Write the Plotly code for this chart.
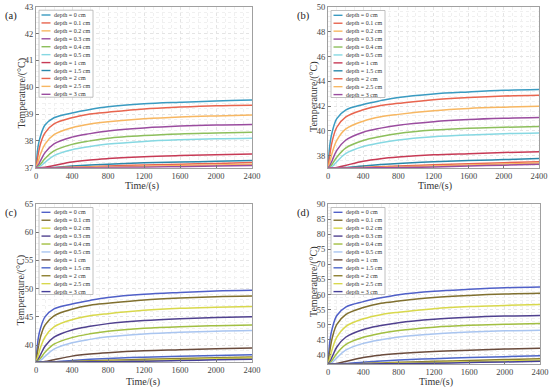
import plotly.graph_objects as go

# ---------------- data ----------------
time_s = [0, 25, 50, 100, 200, 400, 600, 800, 1200, 1600, 2000, 2400]
depth_labels = ["depth = 0 cm", "depth = 0.1 cm", "depth = 0.2 cm", "depth = 0.3 cm",
                "depth = 0.4 cm", "depth = 0.5 cm", "depth = 1 cm", "depth = 1.5 cm",
                "depth = 2 cm", "depth = 2.5 cm", "depth = 3 cm"]
panel_labels = ["(a)", "(b)", "(c)", "(d)"]
x_title = "Time/(s)"
y_title = "Temperature/(\u00b0C)"

temps_a = [
    [37, 37.83, 38.18, 38.59, 38.86, 39.04, 39.17, 39.27, 39.38, 39.44, 39.49, 39.52],
    [37, 37.51, 37.89, 38.30, 38.63, 38.86, 39.00, 39.07, 39.19, 39.26, 39.31, 39.33],
    [37, 37.24, 37.51, 37.88, 38.23, 38.49, 38.63, 38.71, 38.82, 38.89, 38.93, 38.96],
    [37, 37.10, 37.26, 37.56, 37.89, 38.14, 38.27, 38.37, 38.48, 38.55, 38.59, 38.61],
    [37, 37.04, 37.13, 37.34, 37.63, 37.87, 38.00, 38.10, 38.20, 38.26, 38.29, 38.32],
    [37, 37.01, 37.06, 37.20, 37.45, 37.67, 37.79, 37.88, 37.98, 38.04, 38.08, 38.10],
    [37, 37.00, 37.00, 37.02, 37.08, 37.21, 37.29, 37.34, 37.41, 37.45, 37.48, 37.51],
    [37, 37.00, 37.00, 37.00, 37.01, 37.06, 37.10, 37.13, 37.18, 37.21, 37.24, 37.27],
    [37, 37.00, 37.00, 37.00, 37.00, 37.02, 37.04, 37.06, 37.10, 37.13, 37.16, 37.19],
    [37, 37.00, 37.00, 37.00, 37.00, 37.01, 37.02, 37.03, 37.05, 37.08, 37.10, 37.13],
    [37, 37.00, 37.00, 37.00, 37.00, 37.00, 37.00, 37.01, 37.02, 37.04, 37.06, 37.08],
]
temps_b = [
    [37, 39.09, 39.98, 40.99, 41.68, 42.13, 42.44, 42.70, 42.98, 43.14, 43.27, 43.33],
    [37, 38.29, 39.23, 40.29, 41.11, 41.70, 42.05, 42.22, 42.52, 42.69, 42.81, 42.87],
    [37, 37.60, 38.29, 39.24, 40.14, 40.78, 41.13, 41.33, 41.63, 41.81, 41.91, 41.98],
    [37, 37.24, 37.65, 38.42, 39.24, 39.89, 40.22, 40.46, 40.74, 40.91, 41.01, 41.07],
    [37, 37.10, 37.34, 37.87, 38.61, 39.22, 39.55, 39.79, 40.06, 40.21, 40.29, 40.36],
    [37, 37.03, 37.14, 37.51, 38.16, 38.73, 39.04, 39.26, 39.52, 39.67, 39.77, 39.83],
    [37, 37.00, 37.01, 37.04, 37.21, 37.55, 37.75, 37.88, 38.06, 38.16, 38.25, 38.32],
    [37, 37.00, 37.00, 37.00, 37.04, 37.17, 37.28, 37.37, 37.50, 37.60, 37.68, 37.76],
    [37, 37.00, 37.00, 37.00, 37.01, 37.05, 37.11, 37.17, 37.26, 37.35, 37.43, 37.50],
    [37, 37.00, 37.00, 37.00, 37.00, 37.02, 37.05, 37.08, 37.16, 37.24, 37.32, 37.40],
    [37, 37.00, 37.00, 37.00, 37.00, 37.01, 37.02, 37.04, 37.09, 37.16, 37.23, 37.30],
]
temps_c = [
    [37, 41.19, 42.97, 45.00, 46.40, 47.29, 47.92, 48.43, 49.00, 49.32, 49.57, 49.70],
    [37, 39.57, 41.45, 43.55, 45.19, 46.36, 47.06, 47.41, 48.00, 48.35, 48.58, 48.70],
    [37, 38.18, 39.56, 41.43, 43.21, 44.49, 45.18, 45.57, 46.16, 46.51, 46.70, 46.85],
    [37, 37.48, 38.28, 39.80, 41.40, 42.68, 43.32, 43.80, 44.36, 44.68, 44.88, 45.00],
    [37, 37.20, 37.66, 38.71, 40.15, 41.33, 41.99, 42.44, 42.97, 43.26, 43.43, 43.56],
    [37, 37.06, 37.28, 38.00, 39.28, 40.40, 41.01, 41.46, 41.96, 42.26, 42.46, 42.57],
    [37, 37.00, 37.01, 37.07, 37.40, 38.04, 38.41, 38.65, 38.98, 39.17, 39.35, 39.47],
    [37, 37.00, 37.00, 37.01, 37.06, 37.28, 37.48, 37.63, 37.85, 38.02, 38.16, 38.29],
    [37, 37.00, 37.00, 37.00, 37.01, 37.09, 37.20, 37.30, 37.47, 37.62, 37.77, 37.90],
    [37, 37.00, 37.00, 37.00, 37.00, 37.03, 37.08, 37.15, 37.28, 37.42, 37.56, 37.70],
    [37, 37.00, 37.00, 37.00, 37.00, 37.01, 37.03, 37.06, 37.15, 37.26, 37.38, 37.50],
]
temps_d = [
    [37, 45.42, 48.99, 53.07, 55.87, 57.66, 58.93, 59.95, 61.10, 61.74, 62.25, 62.50],
    [37, 42.15, 45.89, 50.10, 53.38, 55.72, 57.12, 57.83, 59.00, 59.70, 60.17, 60.40],
    [37, 39.36, 42.12, 45.87, 49.41, 51.97, 53.35, 54.14, 55.32, 56.01, 56.40, 56.70],
    [37, 37.97, 39.58, 42.64, 45.86, 48.43, 49.72, 50.69, 51.81, 52.46, 52.86, 53.10],
    [37, 37.40, 38.34, 40.48, 43.43, 45.84, 47.18, 48.12, 49.19, 49.80, 50.13, 50.40],
    [37, 37.11, 37.56, 39.02, 41.59, 43.83, 45.06, 45.96, 46.97, 47.58, 47.98, 48.20],
    [37, 37.00, 37.03, 37.16, 37.83, 39.18, 39.96, 40.48, 41.16, 41.58, 41.94, 42.20],
    [37, 37.00, 37.00, 37.01, 37.14, 37.59, 38.00, 38.32, 38.78, 39.13, 39.43, 39.70],
    [37, 37.00, 37.00, 37.00, 37.02, 37.17, 37.37, 37.56, 37.88, 38.17, 38.45, 38.70],
    [37, 37.00, 37.00, 37.00, 37.00, 37.05, 37.15, 37.26, 37.50, 37.74, 37.99, 38.24],
    [37, 37.00, 37.00, 37.00, 37.00, 37.02, 37.05, 37.11, 37.27, 37.47, 37.68, 37.90],
]

x_ticks = [0, 400, 800, 1200, 1600, 2000, 2400]
y_ticks_a = [37, 38, 39, 40, 41, 42, 43]
y_ticks_b = [38, 40, 42, 44, 46, 48, 50]
y_ticks_c = [40, 45, 50, 55, 60, 65]
y_ticks_d = [40, 45, 50, 55, 60, 65, 70, 75, 80, 85, 90]

colors_ab = ["#3A9BC1", "#E8654F", "#F7B762", "#9A4C9F", "#8DBF5C", "#86D8E2",
             "#C73A55", "#2A88AA", "#E8654F", "#F7B762", "#9A4C9F"]
colors_cd = ["#5060C8", "#80702F", "#D8D84C", "#50418F", "#A2BF42", "#A9C5F0",
             "#6A4B3C", "#4D65C8", "#8D7F30", "#D8D84C", "#46409A"]

# ---------------- layout geometry (pixels) ----------------
W, H = 550, 387
panels = [
    dict(temps=temps_a, yt=y_ticks_a, yr=[37, 43], ymin=0.2, colors=colors_ab,
         px=(36, 252), py=(6.7, 167.7), xt=(142, 185.5), yt_pos=(21.5, 93)),
    dict(temps=temps_b, yt=y_ticks_b, yr=[37, 50], ymin=0.4, colors=colors_ab,
         px=(328, 539), py=(7, 168), xt=(435, 185.5), yt_pos=(314, 97)),
    dict(temps=temps_c, yt=y_ticks_c, yr=[37, 65], ymin=1, colors=colors_cd,
         px=(36, 252), py=(204, 362), xt=(143, 381.5), yt_pos=(20.5, 290)),
    dict(temps=temps_d, yt=y_ticks_d, yr=[37, 90], ymin=1, colors=colors_cd,
         px=(328, 540), py=(204, 364), xt=(436, 381.5), yt_pos=(314, 282)),
]

FONT = "Liberation Serif, Times New Roman, serif"
fig = go.Figure()
shapes = []
annotations = []

def fx(p):
    return p / W

def fy(p):
    return 1 - p / H

for i, pn in enumerate(panels):
    k = "" if i == 0 else str(i + 1)
    xa, ya = "x" + k, "y" + k
    for j, series in enumerate(pn["temps"]):
        fig.add_trace(go.Scatter(
            x=time_s, y=series, mode="lines", name=depth_labels[j],
            line=dict(color=pn["colors"][j], width=1.5, shape="spline", smoothing=1.0),
            xaxis=xa, yaxis=ya, showlegend=False, hoverinfo="skip"))
    x0, x1 = pn["px"]
    y0, y1 = pn["py"]
    axcommon = dict(showline=True, linecolor="#a0a0a0", linewidth=1, mirror=True,
                    ticks="inside", ticklen=3, tickcolor="#777", zeroline=False,
                    showgrid=True, gridcolor="#e4e4e4", griddash="dot", gridwidth=1,
                    automargin=False,
                    tickfont=dict(family=FONT, size=8.5, color="#444"))
    fig.update_layout(**{
        "xaxis" + k: dict(domain=[fx(x0), fx(x1)], range=[0, 2400], tickvals=x_ticks,
                          anchor=ya,
                          minor=dict(dtick=100, showgrid=True, gridcolor="#f0f0f0",
                                     griddash="dot", gridwidth=1, ticks=""),
                          **axcommon),
        "yaxis" + k: dict(domain=[fy(y1), fy(y0)], range=pn["yr"], tickvals=pn["yt"],
                          anchor=xa,
                          minor=dict(dtick=pn["ymin"], showgrid=True, gridcolor="#f0f0f0",
                                     griddash="dot", gridwidth=1, ticks=""),
                          **axcommon),
    })
    # axis titles
    annotations.append(dict(text=x_title, xref="paper", yref="paper",
                            x=fx(pn["xt"][0]), y=fy(pn["xt"][1]),
                            xanchor="center", yanchor="middle", showarrow=False,
                            font=dict(family=FONT, size=10, color="#333")))
    annotations.append(dict(text=y_title, xref="paper", yref="paper", textangle=-90,
                            x=fx(pn["yt_pos"][0]), y=fy(pn["yt_pos"][1]),
                            xanchor="center", yanchor="middle", showarrow=False,
                            font=dict(family=FONT, size=10, color="#333")))
    # panel label
    annotations.append(dict(text=panel_labels[i], xref="paper", yref="paper",
                            x=fx(x0 - 33), y=fy(y0 + 9), xanchor="left", yanchor="middle",
                            showarrow=False, font=dict(family=FONT, size=10.5, color="#222")))
    # manual legend box
    lx0, lx1 = x0 + 3, x0 + 57
    ly0, ly1 = y0 + 3.5, y0 + 90.5
    shapes.append(dict(type="rect", xref="paper", yref="paper",
                       x0=fx(lx0), x1=fx(lx1), y0=fy(ly1), y1=fy(ly0),
                       line=dict(color="#b0b0b0", width=0.8), fillcolor="white", layer="above"))
    for j, lab in enumerate(depth_labels):
        yy = ly0 + 4.8 + 7.93 * j
        shapes.append(dict(type="line", xref="paper", yref="paper",
                           x0=fx(lx0 + 2.5), x1=fx(lx0 + 11.5), y0=fy(yy), y1=fy(yy),
                           line=dict(color=pn["colors"][j], width=1.4), layer="above"))
        annotations.append(dict(text=lab, xref="paper", yref="paper",
                                x=fx(lx0 + 12.5), y=fy(yy), xanchor="left", yanchor="middle",
                                showarrow=False,
                                font=dict(family=FONT, size=6, color="#333")))

fig.update_layout(width=W, height=H, margin=dict(l=0, r=0, t=0, b=0),
                  paper_bgcolor="white", plot_bgcolor="white",
                  shapes=shapes, annotations=annotations, showlegend=False)
fig.write_html("out.html", config={"displayModeBar": False},
               post_script="document.body.style.margin='0';document.body.style.overflow='hidden';")
